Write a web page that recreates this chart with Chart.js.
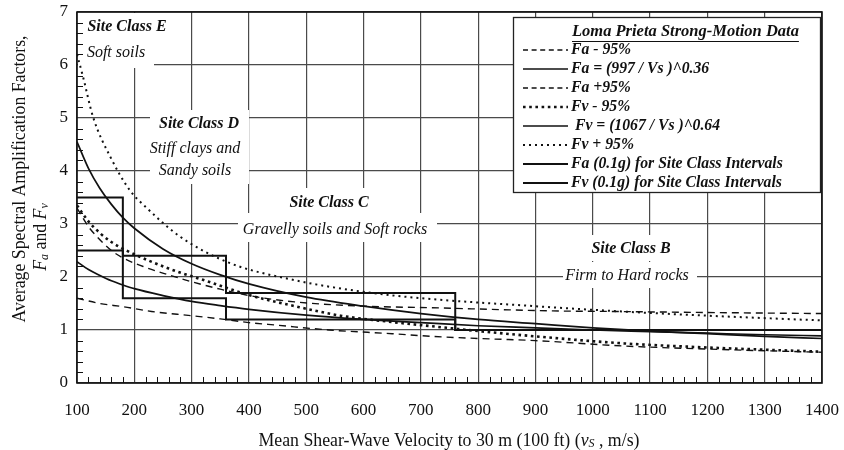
<!DOCTYPE html>
<html><head><meta charset="utf-8">
<script src="https://cdn.jsdelivr.net/npm/chart.js@4.4.1/dist/chart.umd.min.js"></script>
<style>html,body{margin:0;padding:0;background:#fff;}</style>
</head><body>
<canvas id="c" width="844" height="450"></canvas>
<script>
// ---------------- data ----------------
const xTickValues = [100,200,300,400,500,600,700,800,900,1000,1100,1200,1300,1400];
const yTickValues = [0,1,2,3,4,5,6,7];

const meanVs = [100,120,140,160,180,200,250,300,350,400,500,600,700,800,900,1000,1100,1200,1300,1400];
const faMean = [2.29,2.14,2.03,1.93,1.85,1.78,1.65,1.54,1.46,1.39,1.28,1.20,1.14,1.08,1.04,1.00,0.97,0.94,0.91,0.89];
const fvMean = [4.55,4.05,3.67,3.37,3.12,2.92,2.53,2.25,2.04,1.87,1.62,1.45,1.31,1.20,1.12,1.04,0.98,0.93,0.88,0.84];

const faMinusVs = [100,140,180,230,300,350,400,450,540,650,720,800,900,1050,1200,1400];
const faMinus   = [1.60,1.50,1.44,1.35,1.27,1.21,1.14,1.09,1.00,0.93,0.88,0.84,0.80,0.70,0.64,0.58];

const faPlusVs = [100,120,135,160,180,220,260,300,350,400,480,600,720,820,930,1030,1200,1400];
const faPlus   = [3.30,2.95,2.76,2.50,2.36,2.18,2.04,1.91,1.77,1.65,1.53,1.45,1.42,1.39,1.36,1.35,1.33,1.31];

const fvMinusVs = [100,120,140,160,190,260,330,400,480,560,650,720,800,900,1050,1200,1400];
const fvMinus   = [3.35,3.05,2.83,2.66,2.48,2.16,1.91,1.66,1.45,1.27,1.15,1.07,0.98,0.88,0.75,0.67,0.59];

const fvPlusVs = [100,110,128,158,192,222,280,365,480,600,700,870,1050,1200,1400];
const fvPlus   = [6.20,5.80,5.02,4.27,3.64,3.30,2.76,2.27,1.94,1.72,1.60,1.47,1.35,1.27,1.18];

// site class boundaries (E | D | C | B) and 0.1g factors
const classBounds = [100,180,360,760,1400];
const faStep = [2.5,1.6,1.2,1.0,1.0];
const fvStep = [3.5,2.4,1.7,1.0,1.0];

const seriesLabels = ['Fa - 95%','Fa = (997 / Vs )^0.36','Fa +95%','Fv - 95%',' Fv = (1067 / Vs )^0.64','Fv + 95%','Fa (0.1g) for Site Class Intervals','Fv (0.1g) for Site Class Intervals'];
const legendTitle = 'Loma Prieta Strong-Motion Data';

const siteLabels = [
  {lines:['Site Class E','Soft soils'], x:[127,116], y:[27,53]},
  {lines:['Site Class D','Stiff clays and','Sandy soils'], x:[199,195,195], y:[124,149,171]},
  {lines:['Site Class C','Gravelly soils and Soft rocks'], x:[329,335], y:[203,230]},
  {lines:['Site Class B','Firm to Hard rocks'], x:[631,627], y:[249,276]}
];

// ---------------- helpers ----------------
const pts = (xs, ys) => xs.map((x,i)=>({x, y: ys[i]}));
const SERIF = '"Liberation Serif","Times New Roman",serif';
const INK = '#111';

function ds(label, data, dash, width, extra) {
  return Object.assign({label, data, borderColor: INK, backgroundColor: INK,
    borderWidth: width, borderDash: dash, pointRadius: 0, fill: false,
    cubicInterpolationMode: 'monotone', tension: 0.4}, extra || {});
}

const datasets = [
  ds(seriesLabels[0], pts(faMinusVs, faMinus), [7,5], 1.4),
  ds(seriesLabels[1], pts(meanVs, faMean), [], 1.7),
  ds(seriesLabels[2], pts(faPlusVs, faPlus), [7,5], 1.4),
  ds(seriesLabels[3], pts(fvMinusVs, fvMinus), [2.6,3.6], 2.6),
  ds(seriesLabels[4], pts(meanVs, fvMean), [], 1.7),
  ds(seriesLabels[5], pts(fvPlusVs, fvPlus), [2,4], 2.0),
  ds(seriesLabels[6], pts(classBounds, faStep), [], 2.0, {stepped:'before', tension:0, cubicInterpolationMode:'default'}),
  ds(seriesLabels[7], pts(classBounds, fvStep), [], 2.0, {stepped:'before', tension:0, cubicInterpolationMode:'default'})
];

// masks behind in-plot texts
const masks = [
  [78,13,76,55],
  [150,110,99,74],
  [270,188,125,25],
  [238,213,199,29],
  [585,235,95,26],
  [563,262,134,26]
];

const decor = {
  id: 'decor',
  beforeDatasetsDraw(chart) {
    const ctx = chart.ctx;
    ctx.save();
    ctx.fillStyle = '#fff';
    masks.forEach(m => ctx.fillRect(m[0], m[1], m[2], m[3]));
    ctx.fillStyle = INK;
    ctx.textBaseline = 'middle';
    ctx.textAlign = 'center';
    siteLabels.forEach(s => {
      s.lines.forEach((t, i) => {
        ctx.font = (i === 0 ? 'italic bold 16px ' : 'italic 16px ') + SERIF;
        ctx.fillText(t, s.x[i], s.y[i]);
      });
    });
    ctx.restore();
  },
  afterDraw(chart) {
    const ctx = chart.ctx, a = chart.chartArea;
    const xs = chart.scales.x, ys = chart.scales.y;
    ctx.save();
    // minor ticks
    ctx.strokeStyle = INK; ctx.lineWidth = 1;
    ctx.beginPath();
    for (let v = 120; v < 1400; v += 20) {
      if (v % 100 === 0) continue;
      const px = Math.round(xs.getPixelForValue(v)) + 0.5;
      ctx.moveTo(px, a.bottom); ctx.lineTo(px, a.bottom - 6);
    }
    for (let k = 1; k < 35; k++) {
      if (k % 5 === 0) continue;
      const py = Math.round(ys.getPixelForValue(k / 5)) + 0.5;
      ctx.moveTo(a.left, py); ctx.lineTo(a.left + 6, py);
    }
    ctx.stroke();
    // frame
    ctx.lineWidth = 1.6;
    ctx.strokeRect(a.left, a.top, a.right - a.left, a.bottom - a.top);

    // legend
    const L = {x: 513, y: 17, w: 307, h: 175};
    ctx.fillStyle = '#fff';
    ctx.fillRect(L.x, L.y, L.w, L.h);
    ctx.lineWidth = 1.3; ctx.strokeStyle = '#222';
    ctx.strokeRect(L.x + 0.5, L.y + 0.5, L.w, L.h);
    ctx.fillStyle = INK;
    ctx.textBaseline = 'middle'; ctx.textAlign = 'left';
    ctx.font = 'italic bold 16.5px ' + SERIF;
    const tw = ctx.measureText(legendTitle).width;
    ctx.fillText(legendTitle, 572, 32);
    ctx.lineWidth = 1.2; ctx.strokeStyle = INK;
    ctx.beginPath(); ctx.moveTo(572, 41.5); ctx.lineTo(572 + tw, 41.5); ctx.stroke();
    ctx.font = 'italic bold 15.7px ' + SERIF;
    chart.data.datasets.forEach((d, i) => {
      const y = 50 + i * 19;
      ctx.save();
      ctx.strokeStyle = INK;
      ctx.lineWidth = d.borderWidth;
      ctx.setLineDash(d.borderDash.length ? (d.borderDash[0] > 5 ? [5,3.6] : d.borderDash) : []);
      ctx.beginPath(); ctx.moveTo(523, y); ctx.lineTo(568, y); ctx.stroke();
      ctx.restore();
      ctx.fillText(d.label, 571, y);
    });

    // axis titles
    ctx.fillStyle = INK;
    function rich(parts, cx, cy) {
      let total = 0;
      parts.forEach(p => { ctx.font = p.f; p.w = ctx.measureText(p.t).width; total += p.w; });
      let x = cx - total / 2;
      ctx.textAlign = 'left'; ctx.textBaseline = 'middle';
      parts.forEach(p => { ctx.font = p.f; ctx.fillText(p.t, x, cy + (p.dy || 0)); x += p.w; });
    }
    const R = '17.8px ' + SERIF, I = 'italic 17.8px ' + SERIF, S = 'italic 12px ' + SERIF;
    rich([{t:'Mean Shear-Wave Velocity to 30 m (100 ft) (', f:R}, {t:'v', f:I}, {t:'S', f:S, dy:3}, {t:' , m/s)', f:R}], 449, 441);
    ctx.save();
    ctx.translate(20, 179); ctx.rotate(-Math.PI / 2);
    rich([{t:'Average Spectral Amplification Factors,', f:R}], 0, 0);
    ctx.restore();
    ctx.save();
    ctx.translate(41, 237); ctx.rotate(-Math.PI / 2);
    rich([{t:'F', f:I}, {t:'a', f:S, dy:4}, {t:' and ', f:R}, {t:'F', f:I}, {t:'v', f:S, dy:4}], 0, 0);
    ctx.restore();
    ctx.restore();
  }
};

new Chart(document.getElementById('c'), {
  type: 'line',
  data: { datasets },
  options: {
    responsive: false, animation: false, devicePixelRatio: 1,
    layout: { padding: { left: 48, right: 22, top: 12, bottom: 0 } },
    plugins: { legend: { display: false }, tooltip: { enabled: false } },
    scales: {
      x: {
        type: 'linear', min: 100, max: 1400,
        afterBuildTicks: s => { s.ticks = xTickValues.map(v => ({value: v})); },
        afterFit: s => { s.height = 67; s.paddingLeft = 0; s.paddingRight = 0; },
        ticks: { color: INK, font: { family: SERIF, size: 17 }, padding: 17, maxRotation: 0, autoSkip: false,
                 callback: v => String(v) },
        grid: { color: '#4a4a4a', lineWidth: 1.2, drawTicks: false },
        border: { display: false }
      },
      y: {
        min: 0, max: 7,
        afterBuildTicks: s => { s.ticks = yTickValues.map(v => ({value: v})); },
        afterFit: s => { s.width = 29; s.paddingTop = 0; s.paddingBottom = 0; },
        ticks: { color: INK, font: { family: SERIF, size: 17 }, padding: 9, callback: v => String(v) },
        grid: { color: '#4a4a4a', lineWidth: 1.2, drawTicks: false },
        border: { display: false }
      }
    }
  },
  plugins: [decor]
});
</script>
</body></html>
